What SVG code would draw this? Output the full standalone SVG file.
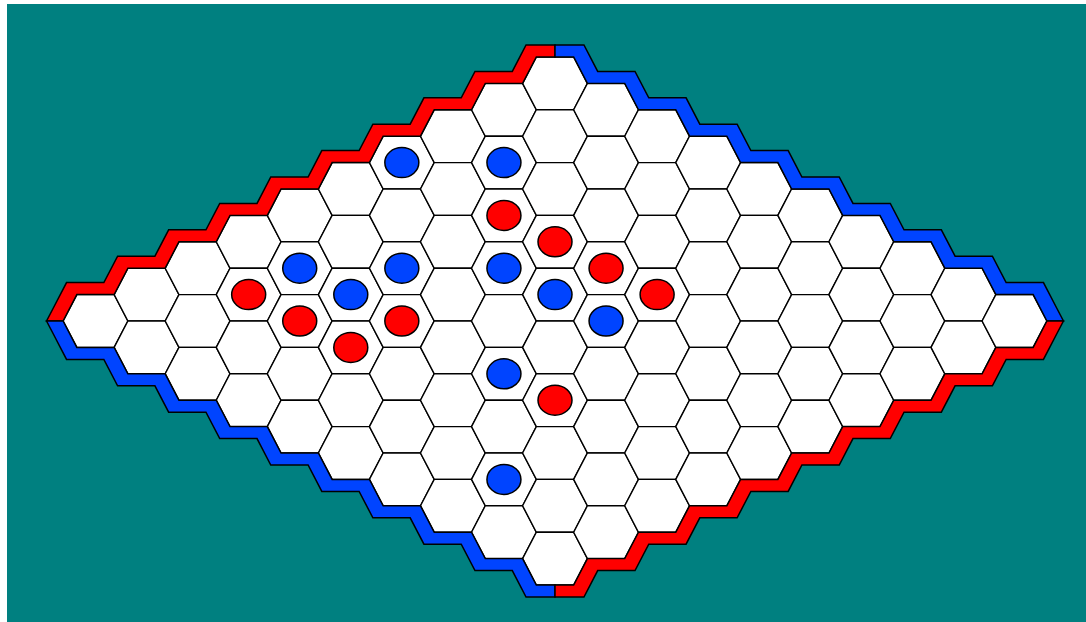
<svg xmlns="http://www.w3.org/2000/svg" width="1086" height="622" viewBox="0 0 1086 622">
<style>
.cell{fill:#fff;stroke:#000;stroke-width:1.4}
.band{stroke:#000;stroke-width:1.5;stroke-linejoin:miter}
.red{fill:#ff0000}
.blue{fill:#0044ff}
.stone{stroke:#000;stroke-width:1.5}
</style>
<defs>
<polygon id="h" class="cell" points="-32.4,0 -18.66,-26.4 18.66,-26.4 32.4,0 18.66,26.4 -18.66,26.4"/>
<polygon id="band" class="band" points="46.55,321 63.1,321 76.84,294.6 114.16,294.6 127.9,268.2 165.21,268.2 178.95,241.8 216.27,241.8 230.01,215.4 267.32,215.4 281.06,189 318.38,189 332.12,162.6 369.43,162.6 383.17,136.2 420.49,136.2 434.23,109.8 471.54,109.8 485.28,83.4 522.6,83.4 536.34,57 555,57 555,45 526.04,45 512.3,71.4 474.98,71.4 461.24,97.8 423.93,97.8 410.19,124.2 372.87,124.2 359.13,150.6 321.82,150.6 308.08,177 270.76,177 257.02,203.4 219.71,203.4 205.97,229.8 168.65,229.8 154.91,256.2 117.6,256.2 103.86,282.6 66.54,282.6 52.8,309"/>
</defs>
<rect x="0" y="0" width="1086" height="622" fill="#fff"/>
<rect x="7" y="4" width="1079" height="618" fill="#008080"/>
<g id="cells">
<g transform="translate(95.5,0)"><use href="#h" y="321"/></g>
<g transform="translate(146.56,0)"><use href="#h" y="294.6"/><use href="#h" y="347.4"/></g>
<g transform="translate(197.61,0)"><use href="#h" y="268.2"/><use href="#h" y="321"/><use href="#h" y="373.8"/></g>
<g transform="translate(248.67,0)"><use href="#h" y="241.8"/><use href="#h" y="294.6"/><use href="#h" y="347.4"/><use href="#h" y="400.2"/></g>
<g transform="translate(299.72,0)"><use href="#h" y="215.4"/><use href="#h" y="268.2"/><use href="#h" y="321"/><use href="#h" y="373.8"/><use href="#h" y="426.6"/></g>
<g transform="translate(350.78,0)"><use href="#h" y="189"/><use href="#h" y="241.8"/><use href="#h" y="294.6"/><use href="#h" y="347.4"/><use href="#h" y="400.2"/><use href="#h" y="453"/></g>
<g transform="translate(401.83,0)"><use href="#h" y="162.6"/><use href="#h" y="215.4"/><use href="#h" y="268.2"/><use href="#h" y="321"/><use href="#h" y="373.8"/><use href="#h" y="426.6"/><use href="#h" y="479.4"/></g>
<g transform="translate(452.89,0)"><use href="#h" y="136.2"/><use href="#h" y="189"/><use href="#h" y="241.8"/><use href="#h" y="294.6"/><use href="#h" y="347.4"/><use href="#h" y="400.2"/><use href="#h" y="453"/><use href="#h" y="505.8"/></g>
<g transform="translate(503.94,0)"><use href="#h" y="109.8"/><use href="#h" y="162.6"/><use href="#h" y="215.4"/><use href="#h" y="268.2"/><use href="#h" y="321"/><use href="#h" y="373.8"/><use href="#h" y="426.6"/><use href="#h" y="479.4"/><use href="#h" y="532.2"/></g>
<g transform="translate(555,0)"><use href="#h" y="83.4"/><use href="#h" y="136.2"/><use href="#h" y="189"/><use href="#h" y="241.8"/><use href="#h" y="294.6"/><use href="#h" y="347.4"/><use href="#h" y="400.2"/><use href="#h" y="453"/><use href="#h" y="505.8"/><use href="#h" y="558.6"/></g>
<g transform="translate(606.06,0)"><use href="#h" y="109.8"/><use href="#h" y="162.6"/><use href="#h" y="215.4"/><use href="#h" y="268.2"/><use href="#h" y="321"/><use href="#h" y="373.8"/><use href="#h" y="426.6"/><use href="#h" y="479.4"/><use href="#h" y="532.2"/></g>
<g transform="translate(657.11,0)"><use href="#h" y="136.2"/><use href="#h" y="189"/><use href="#h" y="241.8"/><use href="#h" y="294.6"/><use href="#h" y="347.4"/><use href="#h" y="400.2"/><use href="#h" y="453"/><use href="#h" y="505.8"/></g>
<g transform="translate(708.17,0)"><use href="#h" y="162.6"/><use href="#h" y="215.4"/><use href="#h" y="268.2"/><use href="#h" y="321"/><use href="#h" y="373.8"/><use href="#h" y="426.6"/><use href="#h" y="479.4"/></g>
<g transform="translate(759.22,0)"><use href="#h" y="189"/><use href="#h" y="241.8"/><use href="#h" y="294.6"/><use href="#h" y="347.4"/><use href="#h" y="400.2"/><use href="#h" y="453"/></g>
<g transform="translate(810.28,0)"><use href="#h" y="215.4"/><use href="#h" y="268.2"/><use href="#h" y="321"/><use href="#h" y="373.8"/><use href="#h" y="426.6"/></g>
<g transform="translate(861.33,0)"><use href="#h" y="241.8"/><use href="#h" y="294.6"/><use href="#h" y="347.4"/><use href="#h" y="400.2"/></g>
<g transform="translate(912.39,0)"><use href="#h" y="268.2"/><use href="#h" y="321"/><use href="#h" y="373.8"/></g>
<g transform="translate(963.44,0)"><use href="#h" y="294.6"/><use href="#h" y="347.4"/></g>
<g transform="translate(1014.5,0)"><use href="#h" y="321"/></g>
</g>
<g id="borders">
<use href="#band" class="red"/>
<use href="#band" class="blue" transform="translate(1110,0) scale(-1,1)"/>
<use href="#band" class="blue" transform="translate(0,642) scale(1,-1)"/>
<use href="#band" class="red" transform="translate(1110,642) scale(-1,-1)"/>
</g>
<g id="stones" class="stone">
<g class="blue">
<ellipse cx="401.83" cy="162.6" rx="17" ry="15"/>
<ellipse cx="503.94" cy="162.6" rx="17" ry="15"/>
<ellipse cx="299.72" cy="268.2" rx="17" ry="15"/>
<ellipse cx="401.83" cy="268.2" rx="17" ry="15"/>
<ellipse cx="503.94" cy="268.2" rx="17" ry="15"/>
<ellipse cx="350.78" cy="294.6" rx="17" ry="15"/>
<ellipse cx="555" cy="294.6" rx="17" ry="15"/>
<ellipse cx="606.06" cy="321" rx="17" ry="15"/>
<ellipse cx="503.94" cy="373.8" rx="17" ry="15"/>
<ellipse cx="503.94" cy="479.4" rx="17" ry="15"/>
</g>
<g class="red">
<ellipse cx="503.94" cy="215.4" rx="17" ry="15"/>
<ellipse cx="555" cy="241.8" rx="17" ry="15"/>
<ellipse cx="606.06" cy="268.2" rx="17" ry="15"/>
<ellipse cx="657.11" cy="294.6" rx="17" ry="15"/>
<ellipse cx="248.67" cy="294.6" rx="17" ry="15"/>
<ellipse cx="299.72" cy="321" rx="17" ry="15"/>
<ellipse cx="401.83" cy="321" rx="17" ry="15"/>
<ellipse cx="350.78" cy="347.4" rx="17" ry="15"/>
<ellipse cx="555" cy="400.2" rx="17" ry="15"/>
</g>
</g>
</svg>
